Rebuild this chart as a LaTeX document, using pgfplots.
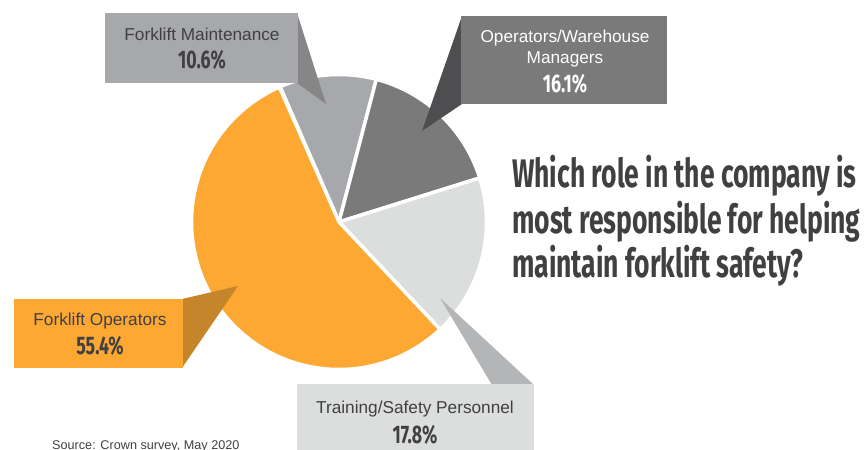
\documentclass[border=0pt]{standalone}
\usepackage{pgfplots}
\pgfplotsset{compat=1.18}
\usepackage{pgfplotstable}
\usepackage{fontspec}
\setmainfont{Liberation Sans}
\newfontfamily\condfont[FakeStretch=0.665]{Fira Sans}
\newfontfamily\pctfont[FakeStretch=0.70]{Fira Sans}
\definecolor{cOrange}{HTML}{FCA833}
\definecolor{cOrangeD}{HTML}{C5852B}
\definecolor{cMaint}{HTML}{A7A8AB}
\definecolor{cMaintD}{HTML}{868687}
\definecolor{cOps}{HTML}{7A7A7A}
\definecolor{cOpsD}{HTML}{4E4E50}
\definecolor{cTrain}{HTML}{DCDDDD}
\definecolor{cTrainD}{HTML}{B4B5B7}
\definecolor{cText}{HTML}{404042}
\pgfplotstableread{
role value
Maintenance 10.6
OpsManagers 16.1
Training 17.8
Operators 55.4
}\piedata
\begin{document}
\begin{tikzpicture}
\pgfplotstablegetelem{0}{value}\of\piedata \let\vA\pgfplotsretval
\pgfplotstablegetelem{1}{value}\of\piedata \let\vB\pgfplotsretval
\pgfplotstablegetelem{2}{value}\of\piedata \let\vC\pgfplotsretval
\pgfplotstablegetelem{3}{value}\of\piedata \let\vD\pgfplotsretval
\pgfmathsetmacro\aA{113.5}
\pgfmathsetmacro\aB{\aA-3.6*\vA}
\pgfmathsetmacro\aC{\aB-3.6*\vB}
\pgfmathsetmacro\aD{\aC-3.6*\vC}
\pgfmathsetmacro\aE{\aD-3.6*\vD}
\def\R{147.5bp}
\begin{axis}[x=1bp,y=1bp,xmin=0,xmax=865,ymin=0,ymax=450,y dir=reverse,
  hide axis,clip=false]
% pie wedges
\fill[cMaint,draw=white,line width=3.5bp,line join=round] (axis cs:339,222) -- ++(\aA:\R) arc[start angle=\aA,end angle=\aB,radius=\R] -- cycle;
\fill[cOps,draw=white,line width=3.5bp,line join=round] (axis cs:339,222) -- ++(\aB:\R) arc[start angle=\aB,end angle=\aC,radius=\R] -- cycle;
\fill[cTrain,draw=white,line width=3.5bp,line join=round] (axis cs:339,222) -- ++(\aC:\R) arc[start angle=\aC,end angle=\aD,radius=\R] -- cycle;
\fill[cOrange,draw=white,line width=3.5bp,line join=round] (axis cs:339,222) -- ++(\aD:\R) arc[start angle=\aD,end angle=\aE,radius=\R] -- cycle;
% callout pointers
\fill[cMaintD] (axis cs:297,13) -- (axis cs:326,104) -- (axis cs:297,83) -- cycle;
\fill[cOpsD] (axis cs:462,16) -- (axis cs:422,131) -- (axis cs:462,104) -- cycle;
\fill[cOrangeD] (axis cs:182,299) -- (axis cs:238,286) -- (axis cs:182,368) -- cycle;
\fill[cTrainD] (axis cs:440,298) -- (axis cs:492,385) -- (axis cs:534,385) -- cycle;
% boxes
\fill[cMaint] (axis cs:105,13) rectangle (axis cs:298,83);
\fill[cOps] (axis cs:461,16) rectangle (axis cs:667,104);
\fill[cOrange] (axis cs:14,299) rectangle (axis cs:183,368);
\fill[cTrain] (axis cs:297,384) rectangle (axis cs:534,452);
% labels
\node[anchor=base,text=cText,font=\fontsize{17.3}{20}\selectfont,inner sep=0pt] at (axis cs:202,41) {Forklift Maintenance};
\node[anchor=base,text=cText,font=\pctfont\bfseries\fontsize{25.5}{27}\selectfont,inner sep=0pt] at (axis cs:202,69) {10.6\%};
\node[anchor=base,text=white,font=\fontsize{17.3}{20}\selectfont,inner sep=0pt] at (axis cs:565,43) {Operators/Warehouse};
\node[anchor=base,text=white,font=\fontsize{17.3}{20}\selectfont,inner sep=0pt] at (axis cs:565,64) {Managers};
\node[anchor=base,text=white,font=\pctfont\bfseries\fontsize{25.5}{27}\selectfont,inner sep=0pt] at (axis cs:565,93) {16.1\%};
\node[anchor=base,text=cText,font=\fontsize{17.3}{20}\selectfont,inner sep=0pt] at (axis cs:100,326) {Forklift Operators};
\node[anchor=base,text=cText,font=\pctfont\bfseries\fontsize{25.5}{27}\selectfont,inner sep=0pt] at (axis cs:100,355) {55.4\%};
\node[anchor=base,text=cText,font=\fontsize{17.3}{20}\selectfont,inner sep=0pt] at (axis cs:415,413) {Training/Safety Personnel};
\node[anchor=base,text=cText,font=\pctfont\bfseries\fontsize{25.5}{27}\selectfont,inner sep=0pt] at (axis cs:415,443) {17.8\%};
% title
\node[anchor=base west,text=cText,font=\condfont\bfseries\fontsize{40}{44}\selectfont,inner sep=0pt] at (axis cs:512,188) {Which role in the company is};
\node[anchor=base west,text=cText,font=\condfont\bfseries\fontsize{40}{44}\selectfont,inner sep=0pt] at (axis cs:512,234) {most responsible for helping};
\node[anchor=base west,text=cText,font=\condfont\bfseries\fontsize{40}{44}\selectfont,inner sep=0pt] at (axis cs:512,278) {maintain forklift safety?};
% source
\node[anchor=base west,text=cText,font=\fontsize{12.7}{14}\selectfont,inner sep=0pt] at (axis cs:52,449) {Source: Crown survey, May 2020};
\end{axis}
\pgfresetboundingbox
\useasboundingbox (current axis.south west) rectangle (current axis.north east);
\end{tikzpicture}
\end{document}
